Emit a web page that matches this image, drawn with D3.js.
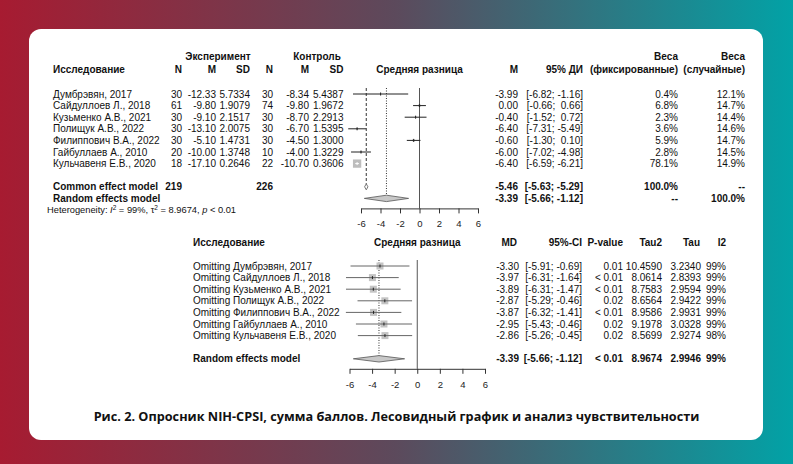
<!DOCTYPE html>
<html>
<head>
<meta charset="utf-8">
<style>
    body { margin: 0; }
    svg { display: block; }
    text { font-family: "Liberation Sans", Arial, sans-serif; fill: #111; }
    .hd { font-weight: bold; }
    .pre { white-space: pre; }
    .axis .domain, .axis .tick line { stroke: #333; }
    .axis .tick text { font-size: 9.5px; fill: #222; font-family: "Liberation Sans", Arial, sans-serif; }
</style>
</head>
<body>
<svg width="793" height="464"></svg>
<script src="https://d3js.org/d3.v7.min.js"></script>
<script>
// top panel: studies
const studies = ["Думбрэвян, 2017", "Сайдуллоев Л., 2018", "Кузьменко А.В., 2021", "Полищук А.В., 2022",
    "Филиппович В.А., 2022", "Гайбуллаев А., 2010", "Кульчавеня Е.В., 2020"];
const expN = [30, 61, 30, 30, 30, 20, 18];
const expM = [-12.33, -9.80, -9.10, -13.10, -5.10, -10.00, -17.10];
const expSD = [5.7334, 1.9079, 2.1517, 2.0075, 1.4731, 1.3748, 0.2646];
const ctrlN = [30, 74, 30, 30, 30, 10, 22];
const ctrlM = [-8.34, -9.80, -8.70, -6.70, -4.50, -4.00, -10.70];
const ctrlSD = [5.4387, 1.9672, 2.2913, 1.5395, 1.3000, 1.3229, 0.3606];
const md = [-3.99, 0.00, -0.40, -6.40, -0.60, -6.00, -6.40];
const mdLow = [-6.82, -0.66, -1.52, -7.31, -1.30, -7.02, -6.59];
const mdHigh = [-1.16, 0.66, 0.72, -5.49, 0.10, -4.98, -6.21];
const wFixed = [0.4, 6.8, 2.3, 3.6, 5.9, 2.8, 78.1];
const wRandom = [12.1, 14.7, 14.4, 14.6, 14.7, 14.5, 14.9];
const totals = [219, 226];
const commonEffect = [-5.46, -5.63, -5.29];   // md, low, high
const randomEffect = [-3.39, -5.66, -1.12];
const heterogeneity = ["99%", "8.9674", "< 0.01"]; // I2, tau2, p

// bottom panel: leave-one-out
const omitMD = [-3.30, -3.97, -3.89, -2.87, -3.87, -2.95, -2.86];
const omitLow = [-5.91, -6.31, -6.31, -5.29, -6.32, -5.43, -5.26];
const omitHigh = [-0.69, -1.64, -1.47, -0.46, -1.41, -0.46, -0.45];
const omitP = ["0.01", "< 0.01", "< 0.01", "0.02", "< 0.01", "0.02", "0.02"];
const omitTau2 = [10.4590, 8.0614, 8.7583, 8.6564, 8.9586, 9.1978, 8.5699];
const omitTau = [3.2340, 2.8393, 2.9594, 2.9422, 2.9931, 3.0328, 2.9274];
const omitI2 = [99, 99, 99, 99, 99, 99, 98];
const randomSummary = ["< 0.01", 8.9674, 2.9946, 99];

const tickValues = [-6, -4, -2, 0, 2, 4, 6];

// plain hyphen minus like the R output
const f2 = v => v.toFixed(2), f4 = v => v.toFixed(4), f1 = v => v.toFixed(1);
const ci = (lo, hi) => "[" + f2(lo).padStart(5) + "; " + f2(hi).padStart(5) + "]";

let svg = d3.select("svg");

// background gradient + card
let grad = svg.append("defs").append("linearGradient").attr("id", "bg")
grad.append("stop").attr("offset", "0%").attr("stop-color", "#a71b31")
grad.append("stop").attr("offset", "50%").attr("stop-color", "#5c4a5c")
grad.append("stop").attr("offset", "100%").attr("stop-color", "#02a2a6")
svg.append("rect").attr("width", 793).attr("height", 464).attr("fill", "url(#bg)")
svg.append("rect").attr("x", 29).attr("y", 29).attr("width", 734).attr("height", 411)
    .attr("rx", 12).attr("fill", "#fff")

function txt(g, x, y, s, anchor, cls, size) {
    return g.append("text").attr("x", x).attr("y", y).attr("dy", "0.35em")
        .attr("text-anchor", anchor || "start").attr("class", cls || "")
        .style("font-size", (size || 10) + "px").text(s)
}

// ---------------- top panel ----------------
let topG = svg.append("g")
let rowH = 11.6
// row index -> y (0..6 studies, 8 common, 9 random, 10 heterogeneity)
let yTop = d3.scaleLinear().domain([0, 1]).range([94, 94 + rowH])
let xTop = d3.scaleLinear().domain([-6, 6]).range([361, 478])

let h1 = 56, h2 = 69
txt(topG, 218, h1, "Эксперимент", "middle", "hd")
txt(topG, 317, h1, "Контроль", "middle", "hd")
txt(topG, 678, h1, "Веса", "end", "hd")
txt(topG, 745, h1, "Веса", "end", "hd")
txt(topG, 53, h2, "Исследование", "start", "hd")
let cols = [[182, "N"], [216, "M"], [250, "SD"], [273, "N"], [309, "M"], [343.5, "SD"],
    [518, "M"], [583, "95% ДИ"], [678, "(фиксированные)"], [745, "(случайные)"]]
cols.forEach(c => txt(topG, c[0], h2, c[1], "end", "hd"))
txt(topG, xTop(0), h2, "Средняя разница", "middle", "hd")

studies.forEach((s, i) => {
    let y = yTop(i)
    txt(topG, 53, y, s)
    txt(topG, 182, y, expN[i], "end")
    txt(topG, 216, y, f2(expM[i]), "end")
    txt(topG, 250, y, f4(expSD[i]), "end")
    txt(topG, 273, y, ctrlN[i], "end")
    txt(topG, 309, y, f2(ctrlM[i]), "end")
    txt(topG, 343.5, y, f4(ctrlSD[i]), "end")
    txt(topG, 518, y, f2(md[i]), "end")
    txt(topG, 583, y, ci(mdLow[i], mdHigh[i]), "end", "pre")
    txt(topG, 678, y, f1(wFixed[i]) + "%", "end")
    txt(topG, 745, y, f1(wRandom[i]) + "%", "end")
})

let yCommon = yTop(8), yRandom = yTop(9), yHet = yTop(10)
txt(topG, 53, yCommon, "Common effect model", "start", "hd")
txt(topG, 182, yCommon, totals[0], "end", "hd")
txt(topG, 273, yCommon, totals[1], "end", "hd")
txt(topG, 518, yCommon, f2(commonEffect[0]), "end", "hd")
txt(topG, 583, yCommon, ci(commonEffect[1], commonEffect[2]), "end", "hd pre")
txt(topG, 678, yCommon, "100.0%", "end", "hd")
txt(topG, 745, yCommon, "--", "end", "hd")
txt(topG, 53, yRandom, "Random effects model", "start", "hd")
txt(topG, 518, yRandom, f2(randomEffect[0]), "end", "hd")
txt(topG, 583, yRandom, ci(randomEffect[1], randomEffect[2]), "end", "hd pre")
txt(topG, 678, yRandom, "--", "end", "hd")
txt(topG, 745, yRandom, "100.0%", "end", "hd")

let het = topG.append("text").attr("x", 47).attr("y", yHet).attr("dy", "0.35em").style("font-size", "9.3px")
het.append("tspan").text("Heterogeneity: ")
het.append("tspan").style("font-style", "italic").text("I")
het.append("tspan").attr("dy", "-3").style("font-size", "6.5px").text("2")
het.append("tspan").attr("dy", "3").text(" = " + heterogeneity[0] + ", τ")
het.append("tspan").attr("dy", "-3").style("font-size", "6.5px").text("2")
het.append("tspan").attr("dy", "3").text(" = " + heterogeneity[1] + ", ")
het.append("tspan").style("font-style", "italic").text("p")
het.append("tspan").text(" " + heterogeneity[2])

let topStart = yTop(0) - 6
let axisTopY = yRandom + 10
topG.append("line").attr("x1", xTop(0)).attr("x2", xTop(0)).attr("y1", topStart).attr("y2", axisTopY)
    .attr("stroke", "#555")
topG.append("line").attr("x1", xTop(commonEffect[0])).attr("x2", xTop(commonEffect[0]))
    .attr("y1", topStart).attr("y2", yCommon - 3).attr("stroke", "#333").attr("stroke-dasharray", "3,2")
topG.append("line").attr("x1", xTop(randomEffect[0])).attr("x2", xTop(randomEffect[0]))
    .attr("y1", topStart).attr("y2", yRandom - 3).attr("stroke", "#333").attr("stroke-dasharray", "1,1.5")

let maxSide = 8.3
studies.forEach((s, i) => {
    let y = yTop(i)
    let side = maxSide * Math.sqrt(wFixed[i] / d3.max(wFixed))
    topG.append("rect").attr("x", xTop(md[i]) - side / 2).attr("y", y - side / 2)
        .attr("width", side).attr("height", side).attr("fill", "#bdbdbd")
    let inside = (xTop(mdHigh[i]) - xTop(mdLow[i])) < side
    topG.append("line").attr("x1", xTop(mdLow[i])).attr("x2", xTop(mdHigh[i]))
        .attr("y1", y).attr("y2", y).attr("stroke", inside ? "#fff" : "#222")
    topG.append("line").attr("x1", xTop(md[i])).attr("x2", xTop(md[i]))
        .attr("y1", y - 1.5).attr("y2", y + 1.5).attr("stroke", inside ? "#fff" : "#222")
})

function diamond(g, x, eff, y, h, fill) {
    let pts = [[x(eff[1]), y], [x(eff[0]), y - h], [x(eff[2]), y], [x(eff[0]), y + h]]
    g.append("polygon").attr("points", pts.map(p => p.join(",")).join(" "))
        .attr("fill", fill).attr("stroke", "#555").attr("stroke-width", 0.8)
}
diamond(topG, xTop, commonEffect, yCommon, 3, "#fff")
diamond(topG, xTop, randomEffect, yRandom, 3.2, "#c8c8c8")

topG.append("g").attr("class", "axis").attr("transform", `translate(0,${axisTopY})`)
    .call(d3.axisBottom(xTop).tickValues(tickValues).tickSize(5).tickSizeOuter(0).tickPadding(7)
        .tickFormat(d => String(d)))

// ---------------- bottom panel ----------------
let botG = svg.append("g")
let yBot = d3.scaleLinear().domain([0, 1]).range([266, 266 + rowH])
let xBot = d3.scaleLinear().domain([-6, 6]).range([349.5, 485])
let hb = 242
txt(botG, 193, hb, "Исследование", "start", "hd")
txt(botG, xBot(0), hb, "Средняя разница", "middle", "hd")
let bcols = [[517, "MD"], [582, "95%-CI"], [623, "P-value"], [662, "Tau2"], [700, "Tau"], [726, "I2"]]
bcols.forEach(c => txt(botG, c[0], hb, c[1], "end", "hd"))

studies.forEach((s, i) => {
    let y = yBot(i)
    txt(botG, 193, y, "Omitting " + s)
    txt(botG, 519, y, f2(omitMD[i]), "end")
    txt(botG, 582, y, ci(omitLow[i], omitHigh[i]), "end", "pre")
    txt(botG, 623, y, omitP[i], "end")
    txt(botG, 662, y, f4(omitTau2[i]), "end")
    txt(botG, 701, y, f4(omitTau[i]), "end")
    txt(botG, 726, y, omitI2[i] + "%", "end")
})
let yRandB = yBot(8)
txt(botG, 193, yRandB, "Random effects model", "start", "hd")
txt(botG, 519, yRandB, f2(randomEffect[0]), "end", "hd")
txt(botG, 582, yRandB, ci(randomEffect[1], randomEffect[2]), "end", "hd pre")
txt(botG, 623, yRandB, randomSummary[0], "end", "hd")
txt(botG, 662, yRandB, f4(randomSummary[1]), "end", "hd")
txt(botG, 701, yRandB, f4(randomSummary[2]), "end", "hd")
txt(botG, 726, yRandB, randomSummary[3] + "%", "end", "hd")

let botStart = yBot(0) - 6
let axisBotY = yRandB + 10
botG.append("line").attr("x1", xBot(0)).attr("x2", xBot(0)).attr("y1", botStart).attr("y2", axisBotY)
    .attr("stroke", "#555")
botG.append("line").attr("x1", xBot(randomEffect[0])).attr("x2", xBot(randomEffect[0]))
    .attr("y1", botStart).attr("y2", yRandB - 3).attr("stroke", "#333").attr("stroke-dasharray", "1,1.5")

studies.forEach((s, i) => {
    let y = yBot(i), side = 7
    botG.append("rect").attr("x", xBot(omitMD[i]) - side / 2).attr("y", y - side / 2)
        .attr("width", side).attr("height", side).attr("fill", "#c4c4c4")
    botG.append("line").attr("x1", xBot(omitLow[i])).attr("x2", xBot(omitHigh[i]))
        .attr("y1", y).attr("y2", y).attr("stroke", "#666")
    botG.append("line").attr("x1", xBot(omitMD[i])).attr("x2", xBot(omitMD[i]))
        .attr("y1", y - 1.5).attr("y2", y + 1.5).attr("stroke", "#222")
})
diamond(botG, xBot, randomEffect, yRandB, 3.2, "#c8c8c8")

botG.append("g").attr("class", "axis").attr("transform", `translate(0,${axisBotY})`)
    .call(d3.axisBottom(xBot).tickValues(tickValues).tickSize(5).tickSizeOuter(0).tickPadding(7)
        .tickFormat(d => String(d)))

// caption
svg.append("text").attr("x", 396.5).attr("y", 417).attr("dy", "0.35em").attr("text-anchor", "middle")
    .style("font-family", "'Open Sans', sans-serif").style("font-weight", "bold").style("font-size", "12.7px")
    .text("Рис. 2. Опросник NIH-CPSI, сумма баллов. Лесовидный график и анализ чувствительности")
</script>
</body>
</html>
